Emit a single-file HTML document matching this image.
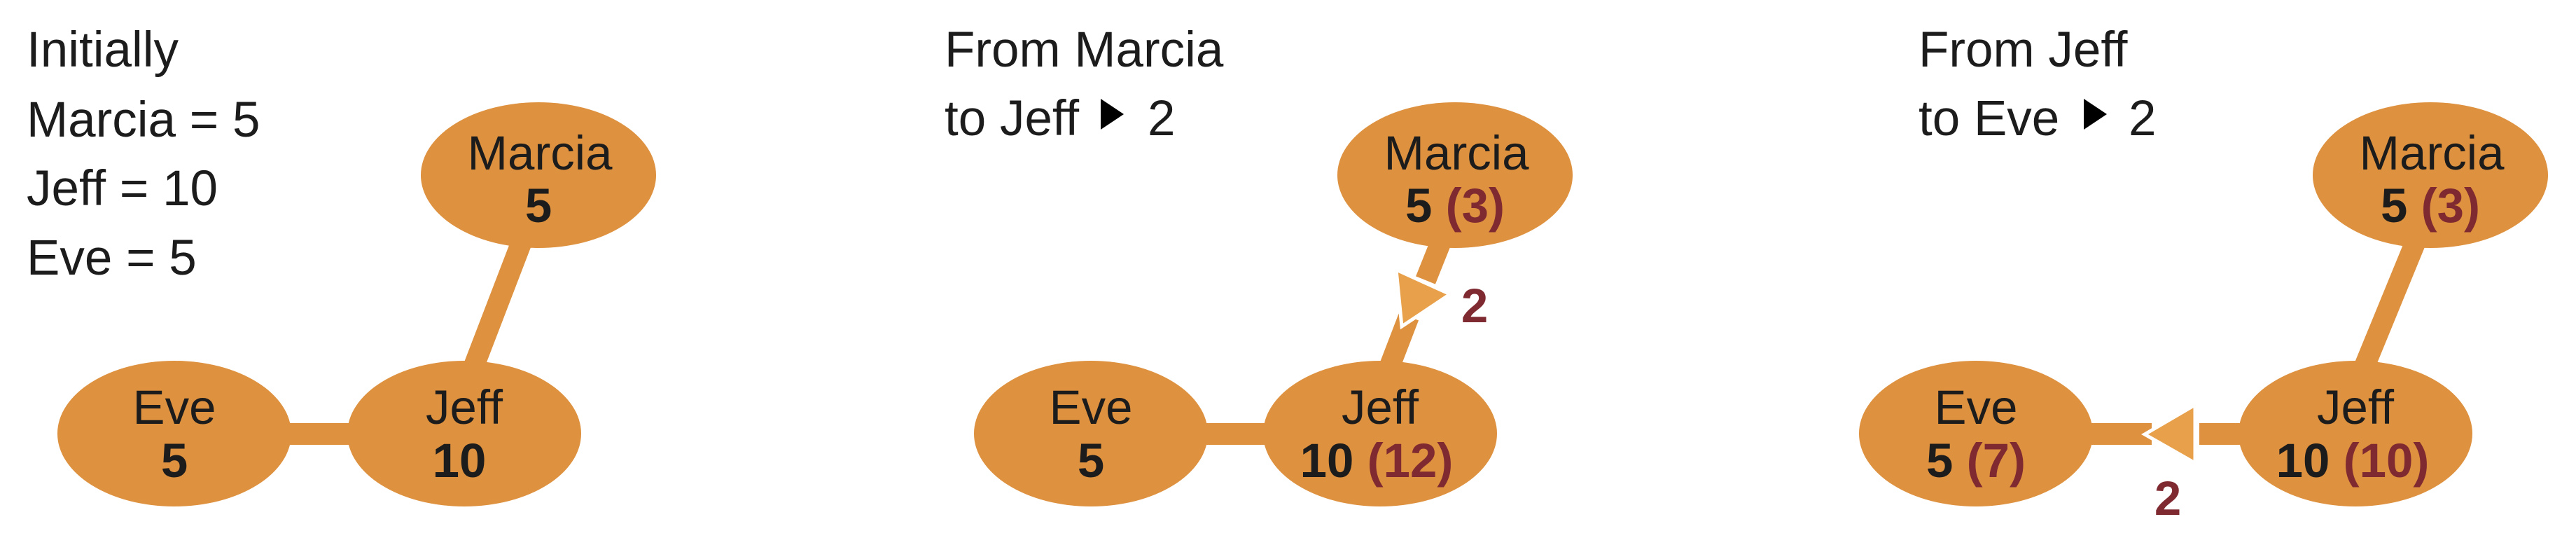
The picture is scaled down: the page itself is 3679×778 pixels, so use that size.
<!DOCTYPE html>
<html><head><meta charset="utf-8"><style>
html,body{margin:0;padding:0;background:#fff;}
svg{display:block;}
text{font-family:"Liberation Sans",sans-serif;fill:#1c1c1c;}
.h{font-size:71px;}
.n{font-size:69px;text-anchor:middle;}
.b{font-weight:bold;}
.r{fill:#7f2a30;font-weight:bold;}
</style></head><body>
<svg width="3679" height="778" viewBox="0 0 3679 778" xmlns="http://www.w3.org/2000/svg">
<g fill="#de913f" stroke="none">
<line x1="747" y1="340" x2="674" y2="530" stroke="#de913f" stroke-width="30"/>
<rect x="400" y="604" width="110" height="31"/>
<ellipse cx="769" cy="250" rx="168" ry="104"/>
<ellipse cx="249" cy="619" rx="167" ry="104"/>
<ellipse cx="663" cy="619" rx="167" ry="104"/>
<line x1="2060" y1="340" x2="2036" y2="400" stroke="#de913f" stroke-width="30"/>
<line x1="2012" y1="452" x2="1982" y2="530" stroke="#de913f" stroke-width="30"/>
<rect x="1710" y="604" width="110" height="31"/>
<ellipse cx="2078" cy="250" rx="168" ry="104"/>
<ellipse cx="1558" cy="619" rx="167" ry="104"/>
<ellipse cx="1971" cy="619" rx="167" ry="104"/>
<polygon points="1994,385 2071,420 2002,466" fill="#e8a04a" stroke="#fff" stroke-width="5" stroke-linejoin="miter"/>
<line x1="3452" y1="340" x2="3374" y2="530" stroke="#de913f" stroke-width="30"/>
<rect x="2970" y="604" width="103" height="31"/>
<rect x="3141" y="604" width="70" height="31"/>
<ellipse cx="3471" cy="250" rx="168" ry="104"/>
<ellipse cx="2822" cy="619" rx="167" ry="104"/>
<ellipse cx="3364" cy="619" rx="167" ry="104"/>
<polygon points="3063,620 3135,578 3135,661" fill="#e8a04a" stroke="#fff" stroke-width="5"/>
</g>

<text class="h" x="38" y="95">Initially</text>
<text class="h" x="38" y="195">Marcia = 5</text>
<text class="h" x="38" y="293">Jeff = 10</text>
<text class="h" x="38" y="392">Eve = 5</text>
<text class="n" x="771" y="242">Marcia</text>
<text class="n b" x="769" y="317">5</text>
<text class="n" x="249" y="605">Eve</text>
<text class="n b" x="249" y="681">5</text>
<text class="n" x="663" y="605">Jeff</text>
<text class="n b" x="656" y="681">10</text>

<text class="h" x="1349" y="95">From Marcia</text>
<text class="h" x="1349" y="193">to Jeff</text>
<polygon points="1572,141 1605,163 1572,185" fill="#000"/>
<text class="h" x="1639" y="193">2</text>
<text class="n" x="2080" y="242">Marcia</text>
<text class="n" x="2078" y="317"><tspan class="b">5</tspan> <tspan class="r">(3)</tspan></text>
<text class="n r" x="2106" y="460">2</text>
<text class="n" x="1558" y="605">Eve</text>
<text class="n b" x="1558" y="681">5</text>
<text class="n" x="1971" y="605">Jeff</text>
<text class="n" x="1966" y="681"><tspan class="b">10</tspan> <tspan class="r">(12)</tspan></text>

<text class="h" x="2740" y="95">From Jeff</text>
<text class="h" x="2740" y="193">to Eve</text>
<polygon points="2976,141 3009,163 2976,185" fill="#000"/>
<text class="h" x="3040" y="193">2</text>
<text class="n" x="3473" y="242">Marcia</text>
<text class="n" x="3471" y="317"><tspan class="b">5</tspan> <tspan class="r">(3)</tspan></text>
<text class="n" x="2822" y="605">Eve</text>
<text class="n" x="2822" y="681"><tspan class="b">5</tspan> <tspan class="r">(7)</tspan></text>
<text class="n" x="3364" y="605">Jeff</text>
<text class="n" x="3360" y="681"><tspan class="b">10</tspan> <tspan class="r">(10)</tspan></text>
<text class="n r" x="3096" y="735">2</text>
</svg>
</body></html>
